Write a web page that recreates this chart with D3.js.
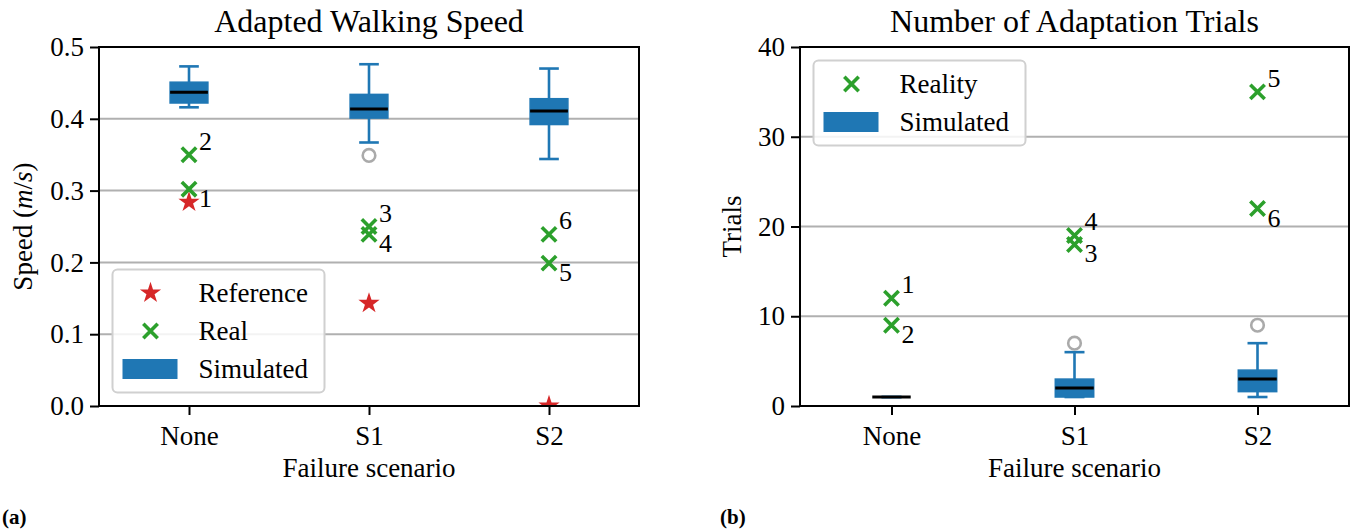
<!DOCTYPE html>
<html>
<head>
<meta charset="utf-8">
<script src="https://cdn.jsdelivr.net/npm/d3@7"></script>
<style>
  body { margin: 0; background: #fff; }
  svg { display: block; }
  text { font-family: "Liberation Serif", "Times New Roman", serif; fill: #000; }
</style>
</head>
<body>
<svg id="chart" width="1356" height="529"></svg>
<script>
// ---------------- DATA ----------------
const categories = ["None", "S1", "S2"];

// Panel (a): Adapted walking speed (m/s)
const speedTicks = [0.0, 0.1, 0.2, 0.3, 0.4, 0.5];
const speedWhiskerLow  = [0.416, 0.367, 0.344];
const speedQ1          = [0.422, 0.401, 0.392];
const speedMedian      = [0.437, 0.4135, 0.411];
const speedQ3          = [0.451, 0.434, 0.428];
const speedWhiskerHigh = [0.473, 0.476, 0.470];
const speedOutliers    = [[], [0.349], []];
const speedReference   = [0.284, 0.143, 0.0];
const speedReal        = [[0.302, 0.350], [0.250, 0.239], [0.199, 0.239]];
const speedRealIds     = [["1", "2"], ["3", "4"], ["5", "6"]];

// Panel (b): Number of adaptation trials
const trialsTicks = [0, 10, 20, 30, 40];
const trialsWhiskerLow  = [1, 1, 1];
const trialsQ1          = [1, 1, 1.6];
const trialsMedian      = [1, 2, 3];
const trialsQ3          = [1, 3, 4];
const trialsWhiskerHigh = [1, 6, 7];
const trialsOutliers    = [[], [7], [9]];
const trialsReal        = [[12, 9], [18, 19], [35, 22]];
const trialsRealIds     = [["1", "2"], ["3", "4"], ["5", "6"]];

// ---------------- STYLE ----------------
const BLUE = "#1f77b4", GREEN = "#2ca02c", RED = "#d62728", GRID = "#b0b0b0", OUT = "#aaaaaa";
const FS = 27, TITLE_FS = 32;
const STAR_SIZE = 140;

const svg = d3.select("#chart");

function panel(cfg) {
  const {left, right, top, bottom} = cfg;
  const g = svg.append("g");
  const x = d3.scalePoint().domain(categories).range([left, right]).padding(0.5);
  const y = d3.scaleLinear().domain(cfg.yDomain).range([bottom, top]);
  const step = x.step();
  const boxW = step * 0.21, capW = boxW * 0.52;

  const clipId = "clip" + cfg.id;
  svg.append("defs").append("clipPath").attr("id", clipId)
    .append("rect").attr("x", left).attr("y", top).attr("width", right - left).attr("height", bottom - top);

  // grid
  g.append("g").selectAll("line").data(cfg.ticks).join("line")
    .attr("x1", left).attr("x2", right)
    .attr("y1", d => y(d)).attr("y2", d => y(d))
    .attr("stroke", GRID).attr("stroke-width", 2);

  const plot = g.append("g").attr("clip-path", `url(#${clipId})`);

  // box plots
  categories.forEach((c, i) => {
    const cx = x(c);
    const bg = plot.append("g");
    bg.append("line").attr("x1", cx).attr("x2", cx)
      .attr("y1", y(cfg.wl[i])).attr("y2", y(cfg.q1[i]))
      .attr("stroke", BLUE).attr("stroke-width", 2.6);
    bg.append("line").attr("x1", cx).attr("x2", cx)
      .attr("y1", y(cfg.q3[i])).attr("y2", y(cfg.wh[i]))
      .attr("stroke", BLUE).attr("stroke-width", 2.6);
    [cfg.wl[i], cfg.wh[i]].forEach(v => {
      bg.append("line").attr("x1", cx - capW / 2).attr("x2", cx + capW / 2)
        .attr("y1", y(v)).attr("y2", y(v))
        .attr("stroke", BLUE).attr("stroke-width", 2.6);
    });
    bg.append("rect").attr("x", cx - boxW / 2).attr("width", boxW)
      .attr("y", y(cfg.q3[i])).attr("height", Math.max(0, y(cfg.q1[i]) - y(cfg.q3[i])))
      .attr("fill", BLUE).attr("stroke", BLUE).attr("stroke-width", 1.5);
    bg.append("line").attr("x1", cx - boxW / 2).attr("x2", cx + boxW / 2)
      .attr("y1", y(cfg.med[i])).attr("y2", y(cfg.med[i]))
      .attr("stroke", "#000").attr("stroke-width", 3);
    cfg.out[i].forEach(v => {
      bg.append("circle").attr("cx", cx).attr("cy", y(v)).attr("r", 6.3)
        .attr("fill", "none").attr("stroke", OUT).attr("stroke-width", 2.6);
    });
  });

  // reference stars
  if (cfg.ref) {
    plot.append("g").selectAll("path").data(cfg.ref).join("path")
      .attr("d", d3.symbol().type(d3.symbolStar).size(STAR_SIZE))
      .attr("transform", (d, i) => `translate(${x(categories[i])},${y(d)})`)
      .attr("fill", RED);
  }

  // real markers
  const xMark = (sel, cx, cy) => {
    const h = 7.2;
    sel.append("path")
      .attr("d", `M${cx - h},${cy - h}L${cx + h},${cy + h}M${cx - h},${cy + h}L${cx + h},${cy - h}`)
      .attr("stroke", GREEN).attr("stroke-width", 3.6).attr("fill", "none");
  };
  categories.forEach((c, i) => {
    const vals = cfg.real[i];
    const maxV = d3.max(vals);
    vals.forEach((v, j) => {
      xMark(plot, x(c), y(v));
      const above = v === maxV;
      g.append("text")
        .attr("x", x(c) + 10)
        .attr("y", y(v) + (above ? -5 : 18))
        .attr("font-size", 26)
        .text(cfg.ids[i][j]);
    });
  });

  // spines
  g.append("rect").attr("x", left).attr("y", top).attr("width", right - left).attr("height", bottom - top)
    .attr("fill", "none").attr("stroke", "#000").attr("stroke-width", 2);

  // axes
  const yAxis = d3.axisLeft(y).tickValues(cfg.ticks).tickFormat(cfg.fmt).tickSize(9).tickPadding(6);
  const ya = g.append("g").attr("transform", `translate(${left},0)`).call(yAxis);
  const xAxis = d3.axisBottom(x).tickSize(9).tickPadding(8);
  const xa = g.append("g").attr("transform", `translate(0,${bottom})`).call(xAxis);
  [ya, xa].forEach(a => {
    a.attr("font-family", null);
    a.select(".domain").remove();
    a.selectAll(".tick line").attr("stroke", "#000").attr("stroke-width", 2);
    a.selectAll(".tick text").attr("font-size", FS).attr("font-family", "Liberation Serif").attr("fill", "#000");
  });
  xa.selectAll(".tick text").attr("dy", null).attr("y", 39);

  // title
  g.append("text").attr("x", (left + right) / 2).attr("y", 32)
    .attr("text-anchor", "middle").attr("font-size", TITLE_FS).text(cfg.title);
  // x label
  g.append("text").attr("x", (left + right) / 2).attr("y", 477)
    .attr("text-anchor", "middle").attr("font-size", FS).text("Failure scenario");
  // y label
  const yl = g.append("text")
    .attr("transform", `translate(${cfg.ylabelX},${(top + bottom) / 2}) rotate(-90)`)
    .attr("text-anchor", "middle").attr("font-size", FS);
  cfg.ylabel(yl);

  // legend
  const L = cfg.legend;
  const lg = g.append("g");
  const rowH = 38;
  const lh = 23.5 * 2 + rowH * (L.items.length - 1);
  const lx = left + 13.5;
  const ly = L.pos === "lower" ? bottom - 13.5 - lh : top + 13.5;
  lg.append("rect").attr("x", lx).attr("y", ly).attr("width", 212).attr("height", lh)
    .attr("rx", 5).attr("fill", "rgba(255,255,255,0.85)").attr("stroke", "#d0d0d0").attr("stroke-width", 2);
  L.items.forEach((it, k) => {
    const cy = ly + 23.5 + k * rowH;
    const hx = lx + 38;
    if (it.type === "star") {
      lg.append("path").attr("d", d3.symbol().type(d3.symbolStar).size(STAR_SIZE)())
        .attr("transform", `translate(${hx},${cy})`).attr("fill", RED);
    } else if (it.type === "x") {
      xMark(lg, hx, cy);
    } else {
      lg.append("rect").attr("x", lx + 10).attr("y", cy - 10).attr("width", 55).attr("height", 20)
        .attr("fill", BLUE);
    }
    lg.append("text").attr("x", lx + 86).attr("y", cy + 9).attr("font-size", FS).text(it.label);
  });
}

panel({
  id: "a", left: 99, right: 639, top: 47, bottom: 406,
  yDomain: [0, 0.5], ticks: speedTicks, fmt: d3.format(".1f"),
  wl: speedWhiskerLow, q1: speedQ1, med: speedMedian, q3: speedQ3, wh: speedWhiskerHigh,
  out: speedOutliers, ref: speedReference, real: speedReal, ids: speedRealIds,
  title: "Adapted Walking Speed", ylabelX: 32,
  ylabel: t => {
    t.append("tspan").text("Speed (");
    t.append("tspan").attr("font-style", "italic").text("m");
    t.append("tspan").text("/");
    t.append("tspan").attr("font-style", "italic").text("s");
    t.append("tspan").text(")");
  },
  legend: {pos: "lower", items: [
    {type: "star", label: "Reference"}, {type: "x", label: "Real"}, {type: "patch", label: "Simulated"}]}
});

panel({
  id: "b", left: 800, right: 1349, top: 47, bottom: 406,
  yDomain: [0, 40], ticks: trialsTicks, fmt: d3.format("d"),
  wl: trialsWhiskerLow, q1: trialsQ1, med: trialsMedian, q3: trialsQ3, wh: trialsWhiskerHigh,
  out: trialsOutliers, ref: null, real: trialsReal, ids: trialsRealIds,
  title: "Number of Adaptation Trials", ylabelX: 741,
  ylabel: t => t.text("Trials"),
  legend: {pos: "upper", items: [{type: "x", label: "Reality"}, {type: "patch", label: "Simulated"}]}
});

// panel tags
svg.append("text").attr("x", 2).attr("y", 524).attr("font-size", 21).attr("font-weight", "bold").text("(a)");
svg.append("text").attr("x", 720).attr("y", 524).attr("font-size", 21).attr("font-weight", "bold").text("(b)");
</script>
</body>
</html>
